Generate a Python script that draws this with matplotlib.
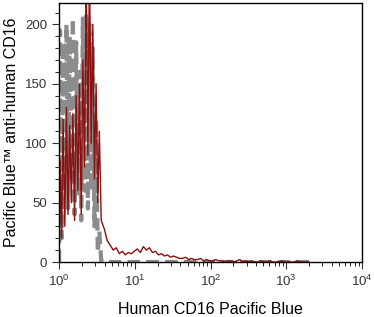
import numpy as np
import matplotlib.pyplot as plt
from matplotlib.ticker import LogLocator, MultipleLocator

plt.rcParams['font.family'] = ['Liberation Sans', 'DejaVu Sans']

# low-channel region (spiky because of log binning)
spike_x = [1.00, 1.03, 1.08, 1.13, 1.19, 1.25, 1.31, 1.38, 1.45, 1.52,
           1.60, 1.68, 1.77, 1.86, 1.96, 2.06, 2.17, 2.28, 2.40, 2.52,
           2.65, 2.79, 2.93, 3.08, 3.24, 3.40]
control_spike = [0, 195, 20, 185, 60, 200, 45, 190, 70, 205,
                 40, 185, 55, 160, 35, 205, 60, 210, 45, 200,
                 60, 180, 30, 120, 8, 26]
stained_spike = [0, 85, 20, 120, 30, 130, 40, 115, 50, 125,
                 35, 140, 60, 150, 40, 170, 80, 240, 90, 250,
                 100, 200, 70, 150, 50, 110]

# tail region, 70 log-spaced channels from 3.6 to 2000
tail_x = np.geomspace(3.6, 2000, 70)
control_tail = [1, 0, 1, 0, 0, 0, 0, 0, 0, 0,
                0, 0, 0, 0, 0, 0, 0, 0, 0, 0,
                0, 0, 0, 0, 0, 0, 0, 0, 0, 0,
                0, 0, 0, 0, 0, 0, 0, 0, 0, 0,
                0, 0, 0, 0, 0, 0, 0, 0, 0, 0,
                0, 0, 0, 0, 0, 0, 0, 0, 0, 0,
                0, 0, 0, 0, 0, 0, 0, 0, 0, 0]
stained_tail = [35, 28, 18, 14, 10, 12, 7, 9, 6, 8,
                7, 9, 11, 8, 13, 10, 12, 8, 9, 6,
                7, 5, 6, 4, 5, 4, 3, 3, 4, 2,
                3, 2, 2, 3, 1, 2, 1, 1, 2, 1,
                1, 0, 1, 1, 0, 1, 2, 0, 1, 0,
                1, 0, 0, 1, 0, 0, 1, 0, 0, 0,
                1, 0, 0, 0, 0, 1, 0, 0, 0, 0]

fig = plt.figure(figsize=(3.74, 3.17), dpi=100)
ax = fig.add_axes([0.158, 0.1735, 0.81, 0.817])

cx = np.concatenate([spike_x, tail_x])
ax.plot(cx, np.concatenate([control_spike, control_tail]), color='#8c8c8c',
        lw=3, ls=(0, (3, 1.5)))
ax.plot(cx, np.concatenate([stained_spike, stained_tail]), color='#8b1010', lw=1)

ax.set_xscale('log')
ax.set_xlim(1, 1e4)
ax.set_ylim(0, 218)
ax.yaxis.set_major_locator(MultipleLocator(50))
ax.yaxis.set_minor_locator(MultipleLocator(10))
ax.xaxis.set_minor_locator(LogLocator(base=10, subs=np.arange(2, 10)))

ax.tick_params(which='major', length=5, labelsize=9.5, colors='#333333')
ax.tick_params(which='minor', length=3)
for s in ax.spines.values():
    s.set_linewidth(1)

ax.set_xlabel('Human CD16 Pacific Blue', fontsize=11.5, labelpad=9)
ax.set_ylabel('Pacific Blue™ anti-human CD16', fontsize=11.5, labelpad=4)

fig.savefig('out.png', dpi=100)
